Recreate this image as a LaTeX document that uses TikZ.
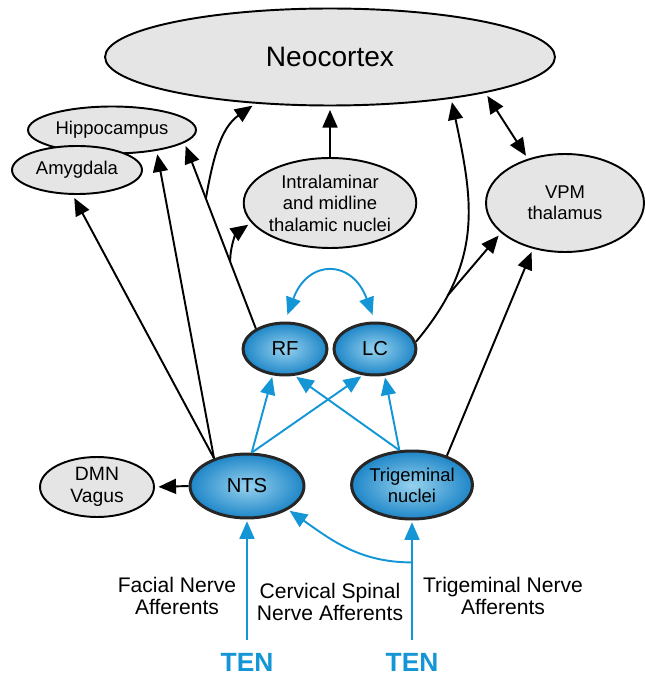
\documentclass[tikz,border=0pt]{standalone}
\usepackage{fontspec}
\setmainfont{Liberation Sans}
\usetikzlibrary{shapes.geometric, positioning, arrows.meta}
\definecolor{tenblue}{RGB}{20,150,214}
\definecolor{regiongray}{RGB}{229,229,229}
\tikzset{
    >={Triangle[length=10pt,width=8.5pt]}, % Filled arrowheads
    region/.style={ellipse, draw, line width=1.1pt, fill=regiongray, inner sep=0pt,
        align=center, font=\fontsize{10.5}{12.2}\selectfont}, % Grey brain regions
    nucleus/.style={ellipse, draw=black!85, line width=1.7pt, inner sep=0pt, align=center,
        inner color={rgb,255:red,150;green,210;blue,238}, outer color={rgb,255:red,30;green,134;blue,200},
        font=\fontsize{11.5}{12.5}\selectfont}, % Shaded brainstem nuclei
    proj/.style={->, line width=1.1pt, shorten >=2pt}, % Black projections
    aff/.style={->, tenblue, line width=1.1pt, shorten >=1pt}, % Blue afferents
    afftext/.style={align=center, font=\fontsize{12}{13}\selectfont},
    tenlabel/.style={text=tenblue, inner sep=7pt, font=\bfseries\fontsize{15}{18}\selectfont},
}

\begin{document}
\begin{tikzpicture}[x=0.02cm, y=0.02cm]
    \useasboundingbox (0,0) rectangle (645,-675);

    \node[region, minimum width=9cm, minimum height=1.94cm, font=\fontsize{16}{19}\selectfont] (neo) at (330,-57) {Neocortex};
    \node[region, minimum width=3.36cm, minimum height=0.94cm] (hip) at (112,-130) {Hippocampus};
    \node[region, minimum width=2.6cm, minimum height=0.96cm] (amy) at (77,-170) {Amygdala};
    \node[region, minimum width=3.32cm, minimum height=1.8cm] (itn) at (330,-203) {Intralaminar\\and midline\\thalamic nuclei};
    \node[region, minimum width=3.16cm, minimum height=1.96cm] (vpm) at (565,-203) {VPM\\thalamus};
    \node[region, minimum width=2.28cm, minimum height=1.2cm, font=\fontsize{11}{12.5}\selectfont] (dmn) at (97,-487) {DMN\\Vagus};

    \node[nucleus, minimum width=1.68cm, minimum height=1.04cm] (rf) at (285,-349) {RF};
    \node[nucleus, minimum width=1.64cm, minimum height=1.04cm] (lc) [right=0.08cm of rf] {LC};
    \node[nucleus, minimum width=2.28cm, minimum height=1.28cm] (nts) at (247,-486) {NTS};
    \node[nucleus, minimum width=2.28cm, minimum height=1.36cm, font=\fontsize{10.5}{12}\selectfont] (tgn) at (412,-485) {Trigeminal\\nuclei};

    \node[tenlabel] (ten1) at (247,-662) {TEN};
    \node[tenlabel] (ten2) at (412,-662) {TEN};
    \node[afftext] (fac) at (177,-596) {Facial Nerve\\Afferents};
    \node[afftext] (cer) at (330,-602) {Cervical Spinal\\Nerve Afferents};
    \node[afftext] (tri) at (503,-596) {Trigeminal Nerve\\Afferents};

    % ascending projections
    \draw[proj] (nts.140) -- (amy.260);
    \draw[proj] (nts.140) -- (hip.335);
    \draw[proj] (rf.145) -- coordinate[pos=0.36] (b2) coordinate[pos=0.70] (b1) (hip.350);
    \draw[proj] (b1) to[out=80, in=215] (neo.212);
    \draw[proj] (b2) to[out=90, in=215] (itn.194);
    \draw[proj] (itn.north) -- (neo.south);
    \draw[proj] (lc.10) to[out=50, in=282, looseness=1.1] coordinate[pos=0.2] (b3) (neo.341);
    \draw[proj] (b3) -- (vpm.205);
    \draw[proj, <->, shorten <=2pt] (neo.347) -- (vpm.130);
    \draw[proj] (tgn.40) -- (vpm.235);
    \draw[proj] (nts.west) -- (dmn.east);

    % afferent inputs
    \draw[aff, <->, shorten <=4pt, shorten >=4pt] (rf.north) to[out=70, in=110, looseness=1.9] (lc.north);
    \draw[aff] (nts.82) -- (rf.245);
    \draw[aff] (nts.82) -- (lc.245);
    \draw[aff] (tgn.110) -- (rf.290);
    \draw[aff] (tgn.110) -- (lc.290);
    \draw[aff] (ten1.north) -- (nts.south);
    \draw[aff] (ten2.north) -- coordinate[pos=0.65] (b4) (tgn.south);
    \draw[aff] (b4) to[out=180, in=-35] (nts.330);
\end{tikzpicture}
\end{document}
